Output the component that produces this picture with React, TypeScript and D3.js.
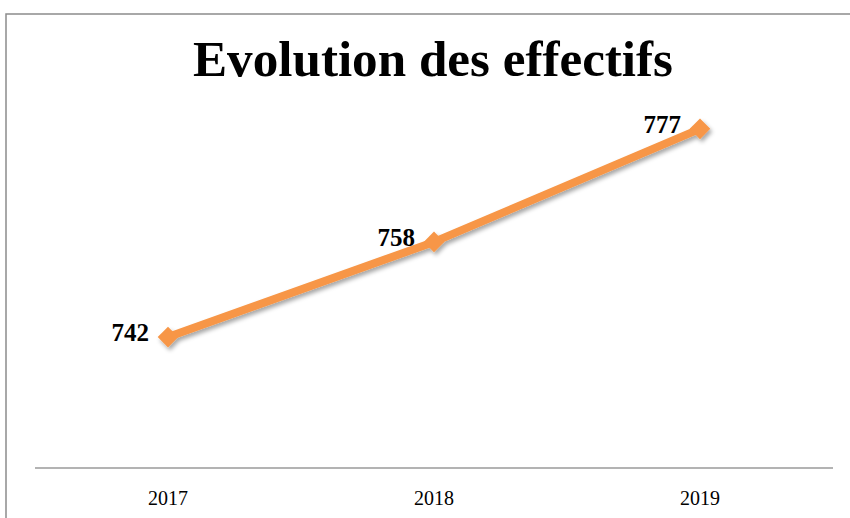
import React from "react";
import * as d3 from "d3";

const years = ["2017", "2018", "2019"];
const effectifs = [742, 758, 777];
const title = "Evolution des effectifs";

const W = 850;
const H = 518;

export default function App() {
  const x = d3.scaleBand<string>().domain(years).range([35, 833]);
  const y = d3.scaleLinear().domain([720, 790]).range([468, 51.5]);
  const data = years.map((yr, i) => ({ yr, v: effectifs[i] }));
  const line = d3
    .line<{ yr: string; v: number }>()
    .x((d) => (x(d.yr) as number) + x.bandwidth() / 2)
    .y((d) => y(d.v));
  const cx = (d: { yr: string }) => (x(d.yr) as number) + x.bandwidth() / 2;
  const diamond = d3.symbol().type(d3.symbolDiamond2 ?? d3.symbolSquare).size(270)();
  const serif = "'Liberation Serif', 'DejaVu Serif', serif";
  return (
    <svg
      width={W}
      height={H}
      style={{ position: "fixed", top: 0, left: 0, background: "#fff" }}
    >
      <defs>
        <filter id="sh" x="-50%" y="-50%" width="200%" height="200%">
          <feDropShadow dx="2" dy="3" stdDeviation="2" floodColor="#000" floodOpacity="0.35" />
        </filter>
      </defs>
      <rect x={6} y={14} width={W + 20} height={H + 20} fill="#fff" stroke="#8c8c8c" strokeWidth={1.5} />
      <text
        x={433}
        y={76}
        textAnchor="middle"
        fontFamily={serif}
        fontWeight="bold"
        fontSize={50}
        textLength={480}
        lengthAdjust="spacingAndGlyphs"
        fill="#000"
      >
        {title}
      </text>
      <line x1={35} x2={833} y1={y(720)} y2={y(720)} stroke="#9a9a9a" strokeWidth={1.5} />
      {years.map((yr) => (
        <text
          key={yr}
          x={(x(yr) as number) + x.bandwidth() / 2}
          y={505}
          textAnchor="middle"
          fontFamily={serif}
          fontSize={20}
          fill="#000"
        >
          {yr}
        </text>
      ))}
      <g filter="url(#sh)">
        <path d={line(data) ?? ""} fill="none" stroke="#F79646" strokeWidth={8} strokeLinejoin="round" />
        {data.map((d) => (
          <path
            key={d.yr}
            d={diamond ?? ""}
            transform={`translate(${cx(d)},${y(d.v)})`}
            fill="#F79646"
          />
        ))}
      </g>
      {data.map((d) => (
        <text
          key={"l" + d.yr}
          x={cx(d) - 19}
          y={y(d.v) + 4}
          textAnchor="end"
          fontFamily={serif}
          fontWeight="bold"
          fontSize={25}
          fill="#000"
        >
          {d.v}
        </text>
      ))}
    </svg>
  );
}
